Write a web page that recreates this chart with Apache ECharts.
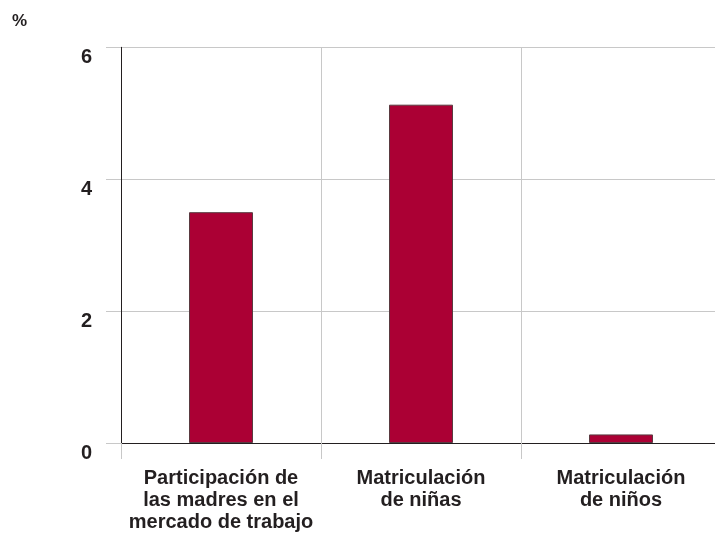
<!DOCTYPE html>
<html>
<head>
<meta charset="utf-8">
<script src="https://cdn.jsdelivr.net/npm/echarts@6/dist/echarts.min.js"></script>
<style>
  html, body { margin: 0; padding: 0; background: #fff; overflow: hidden; width: 715px; height: 533px; }
  /* the plot runs 6px past the right edge so each category band is 200px wide */
  #chart { width: 721px; height: 533px; }
</style>
</head>
<body>
<div id="chart"></div>
<script>
// Categories and values (%)
const categories = [
  'Participación de\nlas madres en el\nmercado de trabajo',
  'Matriculación\nde niñas',
  'Matriculación\nde niños'
];
const values = [3.5, 5.13, 0.13];
const yTicks = { min: 0, max: 6, interval: 2 };
const unitLabel = '%';

const FONT = 'Liberation Sans, Arial, sans-serif';
const TEXT = '#231f20';
const GRID = '#c8c8c8';

const chart = echarts.init(document.getElementById('chart'), null, { renderer: 'canvas' });
chart.setOption({
  animation: false,
  backgroundColor: '#ffffff',
  title: {
    text: unitLabel,
    left: 7,
    top: 8,
    textStyle: { fontFamily: FONT, fontSize: 17, fontWeight: 'bold', color: TEXT }
  },
  grid: { left: 121, top: 47.3, right: 0, bottom: 88.7, containLabel: false },
  xAxis: {
    type: 'category',
    data: categories,
    boundaryGap: true,
    axisLine: { show: true, lineStyle: { color: TEXT, width: 1 } },
    axisTick: { show: true, length: 16, lineStyle: { color: GRID, width: 1 } },
    splitLine: { show: true, lineStyle: { color: GRID, width: 1 } },
    axisLabel: {
      margin: 24,
      fontFamily: FONT,
      fontSize: 20,
      fontWeight: 'bold',
      lineHeight: 22,
      color: TEXT,
      interval: 0
    }
  },
  yAxis: {
    type: 'value',
    min: yTicks.min,
    max: yTicks.max,
    interval: yTicks.interval,
    axisLine: { show: true, lineStyle: { color: TEXT, width: 1 } },
    axisTick: { show: true, length: 15, lineStyle: { color: GRID, width: 1 } },
    splitLine: { show: true, lineStyle: { color: GRID, width: 1 } },
    axisLabel: {
      margin: 29,
      fontFamily: FONT,
      fontSize: 20,
      fontWeight: 'bold',
      color: TEXT,
      verticalAlign: 'top',
      lineHeight: 20
    }
  },
  series: [{
    type: 'bar',
    data: values,
    barWidth: 64,
    itemStyle: { color: '#ab0034', borderColor: '#5a3a40', borderWidth: 1 }
  }]
});
</script>
</body>
</html>
